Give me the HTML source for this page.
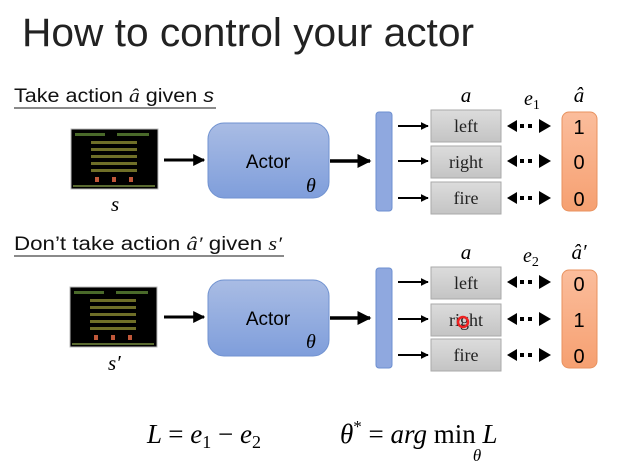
<!DOCTYPE html>
<html><head><meta charset="utf-8"><style>
body{margin:0;background:#fff;width:627px;height:464px;overflow:hidden}
svg{display:block}
.s{font-family:"Liberation Sans",sans-serif}
.r{font-family:"Liberation Serif",serif}
</style></head><body>
<svg width="627" height="464" viewBox="0 0 627 464">
<defs>
<linearGradient id="ab" x1="0" y1="0" x2="0" y2="1"><stop offset="0" stop-color="#a9bce4"/><stop offset="1" stop-color="#7f9edb"/></linearGradient>
<linearGradient id="gb" x1="0" y1="0" x2="0" y2="1"><stop offset="0" stop-color="#dcdcdc"/><stop offset="1" stop-color="#c4c4c4"/></linearGradient>
<linearGradient id="ob" x1="0" y1="0" x2="0" y2="1"><stop offset="0" stop-color="#fbbd9c"/><stop offset="1" stop-color="#f6a071"/></linearGradient>
<marker id="ah" viewBox="0 0 10 10" refX="9" refY="5" markerWidth="4" markerHeight="4" orient="auto"><path d="M0,0L10,5L0,10z" fill="#000"/></marker>
<g id="scr">
<rect x="0" y="0" width="87" height="60" fill="#000" stroke="#bbb"/>
<g fill="#4a6a2a"><rect x="4" y="4" width="30" height="3"/><rect x="46" y="4" width="32" height="3"/></g>
<g fill="#6f6f28">
<rect x="20" y="12" width="46" height="3"/><rect x="20" y="19" width="46" height="3"/><rect x="20" y="26" width="46" height="3"/><rect x="20" y="33" width="46" height="3"/><rect x="20" y="40" width="46" height="3"/></g>
<g fill="#c0583a"><rect x="24" y="48" width="4" height="5"/><rect x="41" y="48" width="4" height="5"/><rect x="58" y="48" width="4" height="5"/></g>
<rect x="2" y="56" width="82" height="2" fill="#5a6a30"/>
</g>
<g id="dda" fill="#000"><path d="M507,0l10,-6v12z"/><rect x="520" y="-2" width="4" height="4"/><rect x="528" y="-2" width="4" height="4"/><path d="M551,0l-12,-7v14z"/></g>
</defs>
<text x="22" y="46" class="s" font-size="40" fill="#222" textLength="452" lengthAdjust="spacingAndGlyphs">How to control your actor</text>

<!-- row 1 -->
<text x="14" y="102" class="s" font-size="19" fill="#111" textLength="200" lengthAdjust="spacingAndGlyphs">Take action <tspan font-style="italic" class="r">â</tspan> given <tspan font-style="italic">s</tspan></text>
<line x1="14" y1="108" x2="216" y2="108" stroke="#444" stroke-width="1.2"/>
<use href="#scr" x="71" y="129"/>
<text x="111" y="211" class="r" font-size="21" font-style="italic">s</text>
<line x1="164" y1="160" x2="204" y2="160" stroke="#000" stroke-width="3" marker-end="url(#ah)"/>
<rect x="208" y="123" width="121" height="75" rx="16" fill="url(#ab)" stroke="#7092d0"/>
<text x="268" y="168" class="s" font-size="19" text-anchor="middle">Actor</text>
<text x="306" y="192" class="r" font-size="20" font-style="italic">θ</text>
<line x1="330" y1="161" x2="370" y2="161" stroke="#000" stroke-width="3.5" marker-end="url(#ah)"/>
<rect x="376" y="112" width="16" height="99" rx="3" fill="#8fa8df" stroke="#6d8fd0"/>
<g stroke="#000" stroke-width="2" marker-end="url(#ah)">
<line x1="398" y1="126" x2="428" y2="126"/><line x1="398" y1="161" x2="428" y2="161"/><line x1="398" y1="198" x2="428" y2="198"/></g>
<g fill="url(#gb)" stroke="#aaa"><rect x="431" y="110" width="70" height="32"/><rect x="431" y="146" width="70" height="32"/><rect x="431" y="182" width="70" height="32"/></g>
<g class="r" font-size="18" text-anchor="middle" fill="#222"><text x="466" y="132">left</text><text x="466" y="168">right</text><text x="466" y="204">fire</text></g>
<text x="466" y="102" class="r" font-size="21" font-style="italic" text-anchor="middle">a</text>
<text x="524" y="105" class="r" font-size="20" font-style="italic">e<tspan font-size="14" font-style="normal" dy="4">1</tspan></text>
<text x="579" y="102" class="r" font-size="21" font-style="italic" text-anchor="middle">â</text>
<rect x="562" y="112" width="35" height="99" rx="7" fill="url(#ob)" stroke="#e8925f"/>
<g class="s" font-size="20" text-anchor="middle"><text x="579" y="134">1</text><text x="579" y="169">0</text><text x="579" y="206">0</text></g>

<!-- row 2 -->
<text x="14" y="250" class="s" font-size="19" fill="#111" textLength="268" lengthAdjust="spacingAndGlyphs">Don’t take action <tspan font-style="italic" class="r">â′</tspan> given <tspan font-style="italic" class="r">s′</tspan></text>
<line x1="14" y1="256" x2="284" y2="256" stroke="#444" stroke-width="1.2"/>
<use href="#scr" x="70" y="287"/>
<text x="108" y="370" class="r" font-size="21" font-style="italic">s′</text>
<line x1="164" y1="317" x2="204" y2="317" stroke="#000" stroke-width="3" marker-end="url(#ah)"/>
<rect x="208" y="280" width="121" height="76" rx="16" fill="url(#ab)" stroke="#7092d0"/>
<text x="268" y="325" class="s" font-size="19" text-anchor="middle">Actor</text>
<text x="306" y="348" class="r" font-size="20" font-style="italic">θ</text>
<line x1="330" y1="318" x2="370" y2="318" stroke="#000" stroke-width="3.5" marker-end="url(#ah)"/>
<rect x="376" y="268" width="16" height="100" rx="3" fill="#8fa8df" stroke="#6d8fd0"/>
<g stroke="#000" stroke-width="2" marker-end="url(#ah)">
<line x1="398" y1="282" x2="428" y2="282"/><line x1="398" y1="319" x2="428" y2="319"/><line x1="398" y1="355" x2="428" y2="355"/></g>
<g fill="url(#gb)" stroke="#aaa"><rect x="431" y="267" width="70" height="32"/><rect x="431" y="304" width="70" height="32"/><rect x="431" y="339" width="70" height="32"/></g>
<g class="r" font-size="18" text-anchor="middle" fill="#222"><text x="466" y="289">left</text><text x="466" y="326">right</text><text x="466" y="361">fire</text></g>
<circle cx="463" cy="322" r="5" fill="none" stroke="#e22" stroke-width="2.5"/>
<text x="466" y="259" class="r" font-size="21" font-style="italic" text-anchor="middle">a</text>
<text x="523" y="262" class="r" font-size="20" font-style="italic">e<tspan font-size="14" font-style="normal" dy="4">2</tspan></text>
<text x="579" y="259" class="r" font-size="21" font-style="italic" text-anchor="middle">â′</text>
<rect x="562" y="270" width="35" height="98" rx="7" fill="url(#ob)" stroke="#e8925f"/>
<g class="s" font-size="20" text-anchor="middle"><text x="579" y="291">0</text><text x="579" y="327">1</text><text x="579" y="363">0</text></g>

<use href="#dda" y="126"/><use href="#dda" y="161"/><use href="#dda" y="198"/>
<use href="#dda" y="282"/><use href="#dda" y="319"/><use href="#dda" y="355"/>

<text x="147" y="443" class="r" font-size="27" font-style="italic">L <tspan font-style="normal">= </tspan>e<tspan font-size="18" font-style="normal" dy="5">1</tspan><tspan dy="-5" font-style="normal"> − </tspan>e<tspan font-size="18" font-style="normal" dy="5">2</tspan></text>
<text x="340" y="443" class="r" font-size="27" font-style="italic">θ<tspan font-size="17" font-style="normal" dy="-11">*</tspan><tspan dy="11" font-style="normal"> = </tspan>arg <tspan font-style="normal">min</tspan> L</text>
<text x="477" y="461" class="r" font-size="17" font-style="italic" text-anchor="middle">θ</text>
</svg>
</body></html>
